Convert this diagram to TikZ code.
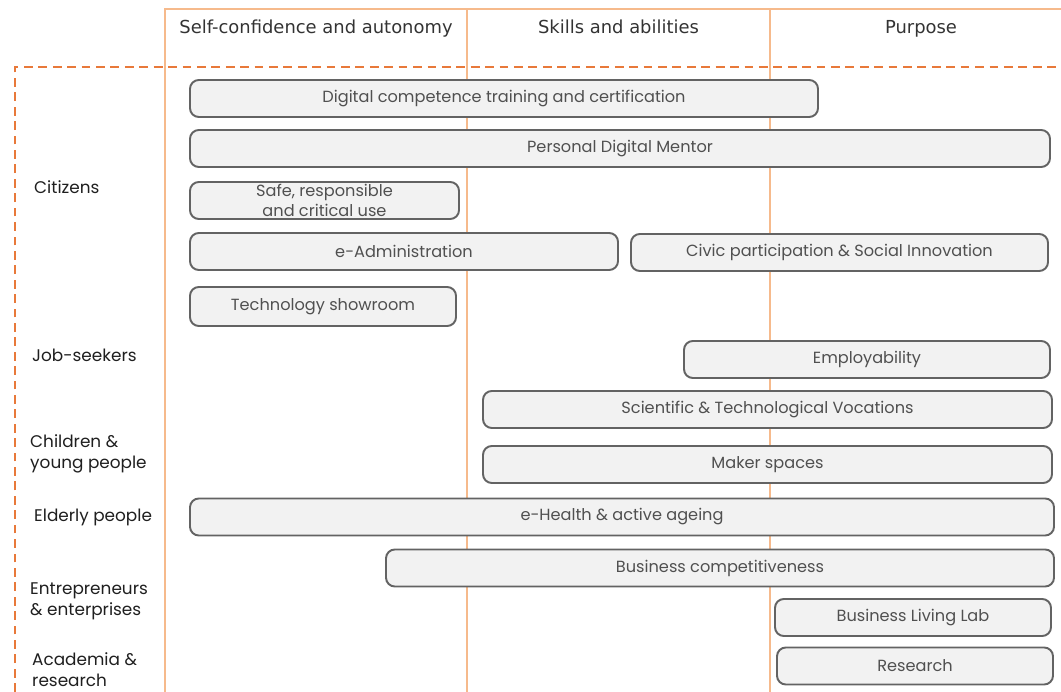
\documentclass[tikz,border=0pt]{standalone}
\usepackage{fontspec}
\setmainfont{Poppins}
\newfontfamily\headfont{DejaVu Sans}
\usepackage{xcolor}
\usepackage{tikz}
\usetikzlibrary{positioning}

\definecolor{colline}{HTML}{F6BA8C}
\definecolor{dashline}{HTML}{E8793A}
\definecolor{barfill}{HTML}{F2F2F2}
\definecolor{bardraw}{HTML}{636363}
\definecolor{bartext}{HTML}{505050}

\begin{document}
\begin{tikzpicture}[
    bar/.style={rectangle, rounded corners=5pt, draw=bardraw, line width=1.1pt, fill=barfill, text=bartext, minimum height=0.74cm, inner sep=1pt, font=\fontsize{9.2}{11.8}\selectfont, align=center},
    header/.style={anchor=base, text=black!80, font=\headfont\fontsize{10.2}{12}\selectfont},
    group/.style={anchor=west, align=left, text=black!88, font=\fontsize{9.6}{11.8}\selectfont},
    colsep/.style={draw=colline, line width=1.6pt}
]
\useasboundingbox (0,0) rectangle (21.22,-13.84);

% Column frame
\draw[colsep] (3.30,-13.84) -- (3.30,-0.18) -- (21.22,-0.18);
\draw[colsep] (9.34,-0.18) -- (9.34,-13.84);
\draw[colsep] (15.40,-0.18) -- (15.40,-13.84);

% Target groups frame
\draw[dashline, line width=1.1pt, dash pattern=on 5pt off 3.2pt] (0.30,-13.84) -- (0.30,-1.34) -- (21.22,-1.34);

% Column headers
\node[header] (hself) at (6.32,-0.68) {Self-confidence and autonomy};
\node[header] (hskill) at (12.37,-0.68) {Skills and abilities};
\node[header] (hpurp) at (18.42,-0.68) {Purpose};

% Target groups
\node[group] (gcit) at (0.56,-3.74) {Citizens};
\node[group] (gjob) at (0.52,-7.10) {Job-seekers};
\node[group] (gchild) at (0.48,-9.07) {Children \&\\young people};
\node[group] (gold) at (0.56,-10.34) {Elderly people};
\node[group] (gent) at (0.48,-12.02) {Entrepreneurs\\\& enterprises};
\node[group] (gacad) at (0.52,-13.39) {Academia \&\\research};

% Programmes
\node[bar, minimum width=12.56cm] (digital) at (10.08,-1.97) {Digital competence training and certification};
\node[bar, minimum width=17.20cm] (mentor) at (12.40,-2.97) {Personal Digital Mentor};
\node[bar, minimum width=5.38cm] (safe) at (6.49,-4.01) {Safe, responsible\\and critical use};
\node[bar, minimum width=8.56cm] (eadmin) at (8.08,-5.03) {e-Administration};
\node[bar, minimum width=8.34cm] (civic) at (16.79,-5.05) {Civic participation \& Social Innovation};
\node[bar, minimum width=5.32cm, minimum height=0.78cm] (showroom) at (6.46,-6.13) {Technology showroom};
\node[bar, minimum width=7.32cm] (employ) at (17.34,-7.19) {Employability};
\node[bar, minimum width=11.38cm] (vocation) at (15.35,-8.19) {Scientific \& Technological Vocations};
\node[bar, minimum width=11.38cm] (maker) at (15.35,-9.29) {Maker spaces};
\node[bar, minimum width=17.28cm] (ehealth) at (12.44,-10.34) {e-Health \& active ageing};
\node[bar, minimum width=13.36cm] (business) at (14.40,-11.36) {Business competitiveness};
\node[bar, minimum width=5.52cm] (livinglab) at (18.26,-12.35) {Business Living Lab};
\node[bar, minimum width=5.52cm] (research) at (18.30,-13.32) {Research};

\end{tikzpicture}
\end{document}
